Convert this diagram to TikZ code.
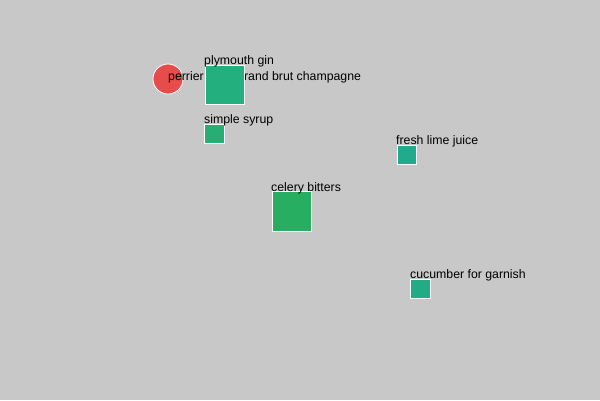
\documentclass[tikz,border=0pt]{standalone}
\usepackage{fontspec}
\setmainfont{Liberation Sans}
\definecolor{bg}{RGB}{200,200,200}
\definecolor{redc}{RGB}{231,76,76}
\definecolor{tealA}{RGB}{36,176,126}
\definecolor{tealB}{RGB}{38,174,116}
\definecolor{tealC}{RGB}{33,170,140}
\definecolor{greenD}{RGB}{39,174,96}
\definecolor{tealE}{RGB}{34,172,134}
\begin{document}
\begin{tikzpicture}[x=1pt,y=-1pt,
  box/.style={draw=white,line width=0.8pt,inner sep=0pt,outer sep=0pt,anchor=north west},
  lbl/.style={inner sep=0pt,anchor=base west,font=\fontsize{12.3}{14}\selectfont,text=black}]
\fill[bg] (0,0) rectangle (600,400);
\useasboundingbox (0,0) rectangle (600,400);
\node[circle,draw=white,line width=0.8pt,fill=redc,minimum size=30pt,inner sep=0pt] (perrier) at (168,79) {};
\node[lbl] (perrierlbl) at (168,80) {perrier jouet grand brut champagne};
\node[box,fill=tealA,minimum size=39pt] (gin) at (205,65) {};
\node[lbl] (ginlbl) at (204,64) {plymouth gin};
\node[box,fill=tealB,minimum size=19.5pt] (syrup) at (204.5,124) {};
\node[lbl] (syruplbl) at (204,123.5) {simple syrup};
\node[box,fill=tealC,minimum size=19.5pt] (lime) at (397,145) {};
\node[lbl] (limelbl) at (396,144.5) {fresh lime juice};
\node[box,fill=greenD,minimum size=39.5pt] (celery) at (272,191.5) {};
\node[lbl] (celerylbl) at (271,191) {celery bitters};
\node[box,fill=tealE,minimum size=19.5pt] (cucumber) at (410.5,279) {};
\node[lbl] (cucumberlbl) at (410,278.5) {cucumber for garnish};
\end{tikzpicture}
\end{document}
